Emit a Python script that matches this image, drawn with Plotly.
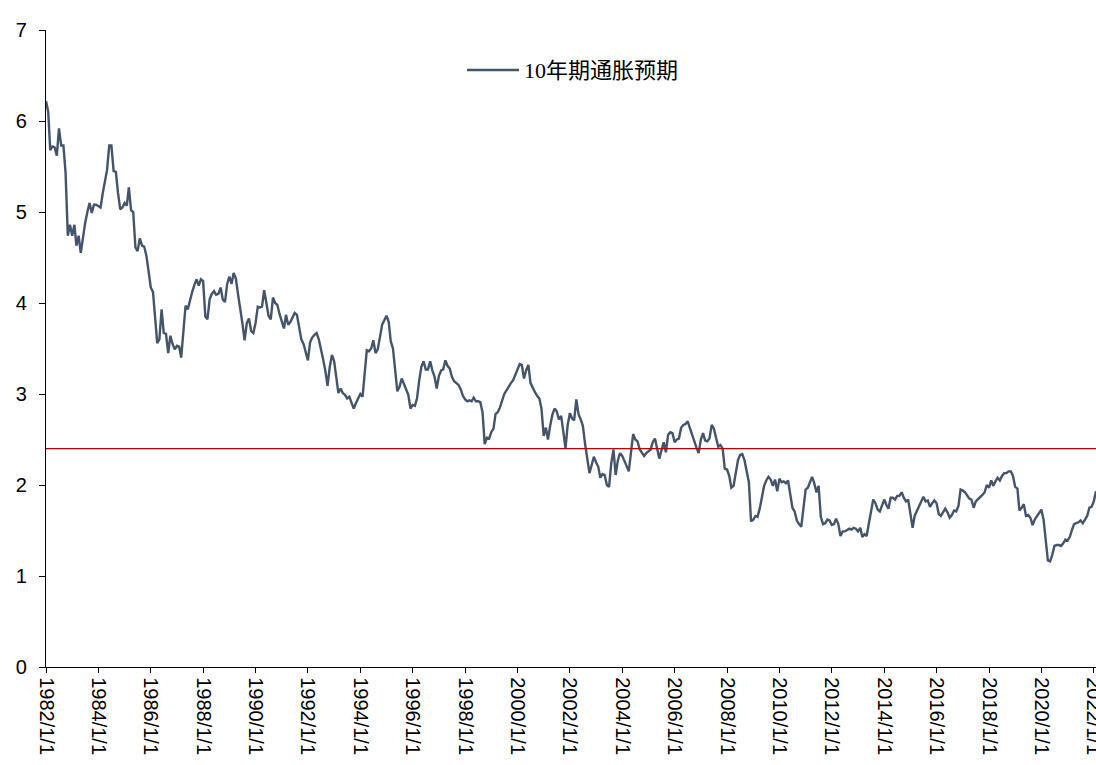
import pandas as pd
import plotly.graph_objects as go

# Monthly 10-year inflation expectations (%), starting January 1982
start_month = "1982-01-01"

values_1980s = [
    6.22, 6.10, 5.68, 5.72, 5.71, 5.62, 5.92, 5.73, 5.73, 5.43, 4.74, 4.86,
    4.74, 4.86, 4.63, 4.74, 4.55, 4.74, 4.88, 5.00, 5.10, 4.99, 5.08, 5.08,
    5.06, 5.05, 5.20, 5.32, 5.46, 5.73, 5.73, 5.45, 5.44, 5.21, 5.03, 5.05,
    5.10, 5.07, 5.27, 5.02, 5.00, 4.61, 4.57, 4.71, 4.63, 4.62, 4.52, 4.35,
    4.17, 4.12, 3.80, 3.56, 3.60, 3.93, 3.67, 3.66, 3.45, 3.64, 3.55, 3.49,
    3.53, 3.52, 3.40, 3.71, 3.97, 3.93, 4.04, 4.12, 4.20, 4.26, 4.19, 4.26,
    4.24, 3.85, 3.82, 4.04, 4.10, 4.13, 4.09, 4.10, 4.17, 4.04, 4.01, 4.21,
    4.29, 4.21, 4.33, 4.27, 4.10, 3.95, 3.78, 3.59, 3.78, 3.83, 3.69, 3.67,
]

values_1990s = [
    3.78, 3.96, 3.95, 3.96, 4.14, 4.00, 3.86, 3.82, 4.06, 4.00, 3.98, 3.88,
    3.81, 3.72, 3.87, 3.76, 3.79, 3.85, 3.89, 3.87, 3.75, 3.60, 3.55, 3.47,
    3.37, 3.57, 3.62, 3.65, 3.67, 3.60, 3.47, 3.38, 3.25, 3.09, 3.30, 3.43,
    3.36, 3.17, 3.01, 3.06, 3.01, 2.99, 2.95, 2.97, 2.90, 2.84, 2.90, 2.96,
    3.00, 2.97, 3.22, 3.48, 3.47, 3.50, 3.59, 3.45, 3.49, 3.65, 3.76, 3.81,
    3.86, 3.79, 3.58, 3.50, 3.30, 3.03, 3.08, 3.17, 3.11, 3.05, 2.99, 2.84,
    2.88, 2.87, 2.95, 3.15, 3.30, 3.36, 3.27, 3.27, 3.36, 3.26, 3.19, 3.06,
    3.20, 3.26, 3.27, 3.37, 3.31, 3.28, 3.19, 3.14, 3.12, 3.10, 3.05, 2.98,
    2.94, 2.92, 2.93, 2.92, 2.96, 2.92, 2.92, 2.91, 2.80, 2.45, 2.52, 2.51,
    2.58, 2.62, 2.78, 2.80, 2.85, 2.93, 3.00, 3.04, 3.09, 3.12, 3.15, 3.21,
]

values_2000s = [
    3.27, 3.33, 3.32, 3.17, 3.26, 3.32, 3.12, 3.06, 3.02, 2.98, 2.95, 2.84,
    2.54, 2.63, 2.50, 2.65, 2.77, 2.84, 2.81, 2.72, 2.76, 2.59, 2.40, 2.66,
    2.79, 2.73, 2.71, 2.94, 2.78, 2.72, 2.65, 2.45, 2.26, 2.13, 2.22, 2.31,
    2.25, 2.20, 2.08, 2.12, 2.11, 2.00, 1.98, 2.24, 2.39, 2.11, 2.27, 2.35,
    2.32, 2.27, 2.21, 2.15, 2.38, 2.56, 2.50, 2.48, 2.39, 2.35, 2.32, 2.35,
    2.37, 2.39, 2.47, 2.51, 2.40, 2.29, 2.38, 2.47, 2.36, 2.55, 2.58, 2.57,
    2.47, 2.50, 2.51, 2.63, 2.66, 2.67, 2.70, 2.62, 2.54, 2.49, 2.41, 2.35,
    2.50, 2.57, 2.49, 2.48, 2.51, 2.66, 2.62, 2.52, 2.42, 2.44, 2.40, 2.18,
    2.17, 2.10, 1.97, 1.99, 2.15, 2.27, 2.33, 2.34, 2.27, 2.16, 2.03, 1.60,
    1.62, 1.66, 1.65, 1.74, 1.88, 1.99, 2.05, 2.09, 2.06, 1.99, 2.06, 1.93,
]

values_2010s = [
    2.07, 2.03, 2.04, 2.02, 2.05, 1.88, 1.75, 1.71, 1.61, 1.57, 1.54, 1.74,
    1.95, 1.97, 2.04, 2.09, 2.02, 1.92, 1.99, 1.65, 1.57, 1.58, 1.62, 1.61,
    1.56, 1.57, 1.63, 1.57, 1.44, 1.49, 1.49, 1.51, 1.52, 1.51, 1.53, 1.52,
    1.49, 1.53, 1.43, 1.46, 1.44, 1.58, 1.70, 1.84, 1.80, 1.73, 1.71, 1.78,
    1.84, 1.78, 1.74, 1.86, 1.86, 1.84, 1.88, 1.88, 1.92, 1.86, 1.82, 1.84,
    1.70, 1.53, 1.66, 1.72, 1.78, 1.82, 1.87, 1.82, 1.83, 1.76, 1.80, 1.83,
    1.80, 1.68, 1.66, 1.70, 1.74, 1.70, 1.64, 1.67, 1.72, 1.71, 1.77, 1.95,
    1.94, 1.92, 1.89, 1.85, 1.84, 1.75, 1.82, 1.84, 1.87, 1.89, 1.92, 2.00,
    1.97, 2.05, 1.99, 2.04, 2.08, 2.05, 2.10, 2.13, 2.13, 2.15, 2.15, 2.10,
    1.98, 1.96, 1.72, 1.75, 1.79, 1.66, 1.67, 1.64, 1.56, 1.62, 1.66, 1.70,
]

values_2020s = [
    1.73, 1.62, 1.38, 1.17, 1.16, 1.23, 1.33, 1.34, 1.34, 1.33, 1.36, 1.40,
    1.39, 1.43, 1.50, 1.57, 1.58, 1.59, 1.61, 1.58, 1.62, 1.66, 1.75, 1.76,
    1.82, 1.93,
]

series_name = "10年期通胀预期"
reference_level = 2.4
tick_years = list(range(1982, 2023, 2))
tick_labels = [f"{y}/1/1" for y in tick_years]
y_ticks = list(range(0, 8))

values = values_1980s + values_1990s + values_2000s + values_2010s + values_2020s
dates = pd.date_range(start_month, periods=len(values), freq="MS")

LINE_COLOR = "#44546A"
REF_COLOR = "#C00000"

fig = go.Figure()
fig.add_trace(go.Scatter(
    x=dates, y=values, mode="lines", name=series_name,
    line=dict(color=LINE_COLOR, width=2.4), showlegend=False,
))

# horizontal reference level across the plot
fig.add_shape(type="line", xref="paper", yref="y", x0=0, x1=1,
              y0=reference_level, y1=reference_level,
              line=dict(color=REF_COLOR, width=1.3))

# legend drawn as a line sample plus label
W_PLOT, H_PLOT, L, T = 1050, 637, 46, 30
def px_x(px):
    return (px - L) / W_PLOT
def px_y(py):
    return (T + H_PLOT - py) / H_PLOT

fig.add_shape(type="line", xref="paper", yref="paper",
              x0=px_x(467), x1=px_x(519), y0=px_y(70), y1=px_y(70),
              line=dict(color=LINE_COLOR, width=2.4))
fig.add_annotation(xref="paper", yref="paper", x=px_x(522), y=px_y(71),
                   xanchor="left", yanchor="middle", showarrow=False,
                   text=series_name,
                   font=dict(family="Liberation Serif, Noto Sans CJK SC", size=22, color="#000000"))

fig.update_layout(
    width=1096, height=765,
    margin=dict(l=L, r=0, t=T, b=765 - T - H_PLOT),
    paper_bgcolor="white", plot_bgcolor="white",
    font=dict(family="Liberation Sans, Arial", size=20, color="#000000"),
)
fig.update_xaxes(
    type="date", range=["1982-01-01", "2022-02-01"],
    tickmode="array",
    tickvals=[pd.Timestamp(f"{y}-01-01") for y in tick_years],
    ticktext=tick_labels, tickangle=90, ticklabeloverflow="allow",
    automargin=False,
    showgrid=False, zeroline=False,
    showline=True, linecolor="#000000", linewidth=1.3,
    ticks="outside", ticklen=5, tickwidth=1.3, tickcolor="#000000",
    tickfont=dict(size=20),
)
fig.update_yaxes(
    range=[0, 7], tickmode="array", tickvals=y_ticks,
    automargin=False,
    showgrid=False, zeroline=False,
    showline=True, linecolor="#000000", linewidth=1.3,
    ticks="outside", ticklen=6, tickwidth=1.3, tickcolor="#000000",
    ticklabelstandoff=8, tickfont=dict(size=20),
)

fig.write_html("out.html")
